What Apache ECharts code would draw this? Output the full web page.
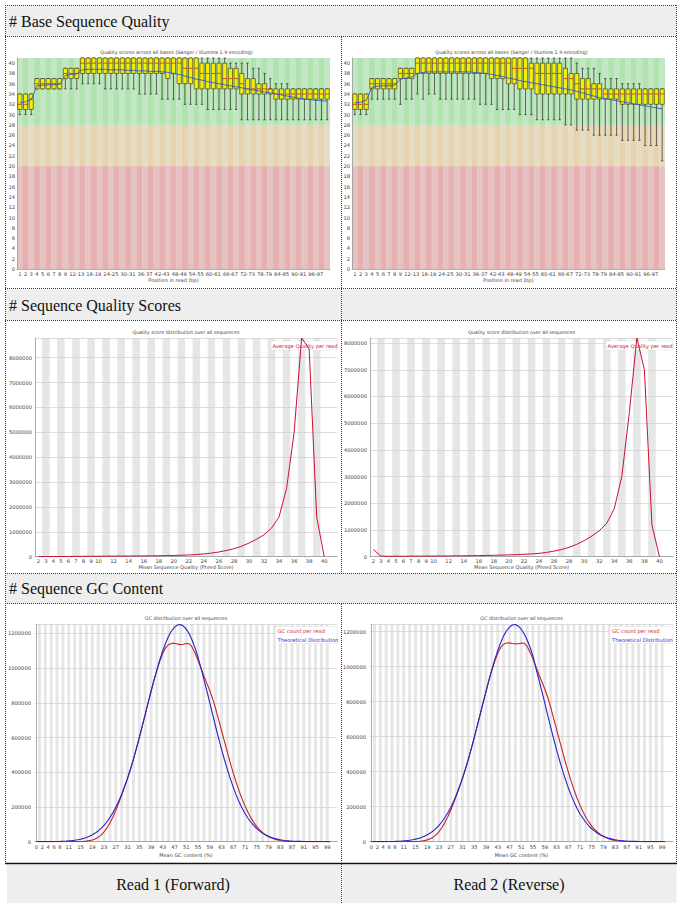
<!DOCTYPE html>
<html><head><meta charset="utf-8">
<script src="https://cdn.jsdelivr.net/npm/echarts@6/dist/echarts.min.js"></script>
<style>html,body{margin:0;padding:0;background:#fff}#c{width:681px;height:910px}</style>
</head><body><div id="c"></div>
<script>
// ---------- Base Sequence Quality ----------
const bsqCategories = ['1','2','3','4','5','6','7','8','9','10-11','12-13','14-15','16-17','18-19','20-21','22-23','24-25','26-27','28-29','30-31','32-33','34-35','36-37','38-39','40-41','42-43','44-45','46-47','48-49','50-51','52-53','54-55','56-57','58-59','60-61','62-63','64-65','66-67','68-69','70-71','72-73','74-75','76-77','78-79','80-81','82-83','84-85','86-87','88-89','90-91','92-93','94-95','96-97','98-99','100-101'];
const bsqTickLabels = ['1','2','3','4','5','6','7','8','9','12-13','18-19','24-25','30-31','36-37','42-43','48-49','54-55','60-61','66-67','72-73','78-79','84-85','90-91','96-97'];
const bsqZoneBounds = [0, 20, 28, 41];
// [10th pct, Q1, median, Q3, 90th pct]
const bsqBoxRead1 = [
[30,31,32,34,34],[30,31,32,34,34],[30,31,33,34,34],[35,35,36,37,37],[35,35,36,37,37],[35,35,36,37,37],[35,35,36,37,37],[35,35,36,37,37],
[35,37,38,39,39],[35,37,38,39,39],[35,37,38,39,39],[36,38,40,41,41],[36,38,40,41,41],[36,38,40,41,41],[36,38,40,41,41],[35,38,40,41,41],
[35,38,40,41,41],[35,38,40,41,41],[35,38,40,41,41],[35,38,40,41,41],[35,38,40,41,41],[34,38,40,41,41],[34,38,40,41,41],[34,38,40,41,41],
[34,38,40,41,41],[33,38,40,41,41],[33,37,40,41,41],[33,38,40,41,41],[33,36,40,41,41],[32,36,39,41,41],[32,36,39,41,41],[32,35,39,41,41],
[32,35,38,40,41],[31,35,38,40,41],[31,35,38,40,41],[31,35,38,40,41],[31,35,37,40,41],[31,35,37,39,40],[31,35,37,39,40],[29,34,36,38,40],
[29,34,35,37,40],[29,34,35,37,39],[29,34,35,36,39],[29,34,35,36,38],[29,34,35,35,37],[29,33,34,35,36],[29,33,34,35,36],[29,33,34,35,36],
[29,33,34,35,35],[29,33,34,35,35],[29,33,34,35,35],[29,33,34,35,35],[29,33,34,35,35],[29,33,34,35,35],[29,33,34,35,35]];
const bsqMeanRead1 = [32.3,32.5,32.9,35.6,35.7,35.8,35.8,35.9,37.6,37.8,37.9,38.7,38.8,38.8,38.8,38.8,38.7,38.7,38.7,38.6,38.6,38.5,38.5,38.4,38.4,38.3,38.2,38.0,37.8,37.5,37.2,36.9,36.7,36.4,36.2,36.0,35.8,35.6,35.4,35.2,35.0,34.8,34.6,34.4,34.2,34.0,33.8,33.6,33.4,33.2,33.0,32.9,32.8,32.7,32.6];
const bsqBoxRead2 = [
[30,31,32,34,34],[30,31,32,34,34],[30,31,32,34,34],[33,35,36,37,37],[33,35,36,37,37],[33,35,36,37,37],[33,35,36,37,37],[33,35,36,37,37],
[32,37,38,39,39],[33,37,38,39,39],[33,37,38,39,39],[34,38,40,41,41],[33,38,40,41,41],[34,38,40,41,41],[34,38,40,41,41],[33,38,40,41,41],
[33,38,40,41,41],[33,38,40,41,41],[33,38,40,41,41],[33,38,40,41,41],[33,38,40,41,41],[33,38,40,41,41],[32,38,40,41,41],[32,38,40,41,41],
[32,37,40,41,41],[31,37,40,41,41],[31,37,40,41,41],[31,36,40,41,41],[31,36,39,41,41],[30,35,39,41,41],[30,35,39,41,41],[30,35,39,40,41],
[29,34,38,40,41],[29,34,38,40,41],[29,34,38,40,41],[29,34,38,40,41],[29,34,38,40,41],[28,34,37,39,41],[28,34,37,38,41],[27,33,36,38,40],
[27,33,35,37,39],[27,33,35,37,39],[26,33,35,36,39],[26,33,35,36,38],[26,33,34,35,37],[26,33,34,35,37],[26,33,34,35,37],[25,32,34,35,36],
[25,32,34,35,36],[25,32,34,35,36],[25,32,34,35,36],[24,32,34,35,35],[24,32,34,35,35],[24,32,34,35,35],[21,32,34,35,35]];
const bsqMeanRead2 = [32.3,32.4,32.8,35.3,35.5,35.6,35.6,35.7,36.9,37.1,37.3,38.0,38.2,38.3,38.3,38.3,38.3,38.3,38.3,38.3,38.3,38.2,38.1,38.0,37.8,37.6,37.4,37.1,36.9,36.6,36.4,36.2,36.0,35.8,35.6,35.4,35.2,35.0,34.8,34.5,34.2,33.9,33.6,33.3,33.1,32.9,32.7,32.5,32.3,32.1,31.9,31.7,31.5,31.3,31.1];

// ---------- Per sequence quality scores ----------
const sqsQuality = [2,3,4,5,6,7,8,9,10,11,12,13,14,15,16,17,18,19,20,21,22,23,24,25,26,27,28,29,30,31,32,33,34,35,36,37,38,39,40];
const sqsTickLabels = [2,3,4,5,6,7,8,9,10,12,14,16,18,20,22,24,26,28,30,32,34,36,38,40];
const sqsCountRead1 = [3000,5000,7000,9000,11000,13000,15000,17000,19000,21000,23000,25000,27000,29000,32000,35000,39000,44000,50000,58000,70000,88000,110000,145000,190000,250000,320000,420000,550000,700000,880000,1150000,1600000,2750000,5000000,8790000,8350000,1600000,0];
const sqsCountRead2 = [270000,20000,18000,18000,19000,20000,21000,22000,24000,26000,28000,31000,34000,38000,42000,47000,53000,60000,68000,78000,90000,105000,125000,160000,210000,270000,350000,460000,600000,770000,970000,1250000,1800000,3000000,5400000,8190000,7000000,1190000,0];
const sqsYMax = [8790000, 8190000];

// ---------- GC content ----------
const gcPercent = [0,1,2,3,4,5,6,7,8,9,10,11,12,13,14,15,16,17,18,19,20,21,22,23,24,25,26,27,28,29,30,31,32,33,34,35,36,37,38,39,40,41,42,43,44,45,46,47,48,49,50,51,52,53,54,55,56,57,58,59,60,61,62,63,64,65,66,67,68,69,70,71,72,73,74,75,76,77,78,79,80,81,82,83,84,85,86,87,88,89,90,91,92,93,94,95,96,97,98,99,100];
const gcTickLabels = [0,2,4,6,8,11,15,19,23,27,31,35,39,43,47,51,55,59,63,67,71,75,79,83,87,91,95,99];
const gcCountRead1 = [0,0,0,0,0,0,0,0,0,0,0,100,200,400,700,1200,2000,3500,6000,10000,16000,25000,38000,56000,80000,108000,141000,180000,222000,268000,316000,364000,416000,474000,536000,600000,666000,733000,800000,866000,930000,988000,1040000,1085000,1118000,1135000,1142000,1143000,1138000,1135000,1137000,1141000,1140000,1120000,1085000,1045000,1000000,955000,912000,870000,822000,765000,703000,640000,577000,514000,453000,395000,341000,291000,246000,205000,169000,137000,110000,87000,68000,52000,39000,29000,21000,15000,10000,7000,4800,3200,2100,1400,900,600,400,250,150,100,60,40,20,10,0,0,0];
const gcTheoryRead1 = [115,170,245,350,500,707,990,1400,1900,2600,3600,4800,6400,8500,11200,14600,19000,24400,31000,39500,49600,62000,76500,94000,115000,139000,166000,198000,233000,273000,318000,366000,419000,476000,536000,599000,665000,731000,799000,865000,930000,991000,1048000,1100000,1146000,1185000,1215000,1236000,1248000,1251000,1242000,1224000,1198000,1160000,1115000,1062000,1000000,935000,868000,800000,730000,662000,596000,532000,472000,415000,362000,313000,268000,228000,193000,162000,135000,112000,92000,75000,61000,49000,39000,31000,24500,19000,14800,11400,8700,6600,5000,3700,2700,2000,1600,1100,800,570,400,280,190,130,90,60,40];
const gcCountRead2 = [0,0,0,0,0,0,0,0,0,0,0,100,200,400,700,1200,2100,3600,6200,10500,16500,26000,39000,57000,81000,109000,142000,180000,222000,267000,314000,362000,414000,471000,532000,595000,660000,727000,793000,858000,921000,979000,1031000,1076000,1110000,1128000,1135000,1136000,1132000,1130000,1131000,1135000,1134000,1116000,1083000,1044000,1000000,957000,915000,874000,827000,770000,708000,645000,582000,519000,458000,400000,346000,296000,250000,209000,172000,140000,113000,89000,70000,54000,40000,30000,22000,15500,10500,7300,5000,3300,2200,1400,900,600,400,250,150,100,60,40,20,10,0,0,0];
const gcTheoryRead2 = [110,165,240,345,495,700,980,1390,1880,2580,3570,4760,6350,8430,11100,14500,18850,24200,30750,39200,49200,61500,75900,93200,114000,138000,165000,196000,231000,271000,315000,363000,416000,472000,532000,594000,660000,725000,793000,858000,923000,983000,1040000,1091000,1137000,1176000,1205000,1226000,1238000,1241000,1232000,1214000,1188000,1154000,1111000,1061000,992000,928000,861000,794000,724000,657000,591000,528000,468000,412000,359000,310000,266000,226000,191000,160000,134000,111000,91000,74000,60500,48600,38700,30700,24300,18800,14700,11300,8600,6500,4900,3700,2700,2000,1600,1100,800,570,400,280,190,130,90,60,40];
const gcYMax = [1252000, 1242000];

// ---------- styling helpers ----------
const SANS = 'DejaVu Sans';
const SERIF = 'Liberation Serif';
const LBL = {fontSize: 5.2, color: '#444', fontFamily: SANS};
const AXL = {show: true, lineStyle: {color: '#999', width: 0.8}};
const zoneLight = ['#e6c3c3', '#e6dcc3', '#c3e6c3'];
const zoneDark  = ['#e6b0b0', '#e6d4b0', '#b0e3b0'];

function bsqBg(params, api) {
  const i = api.value(0);
  const w = api.size([1, 0])[0];
  const cx = api.coord([i, 0])[0];
  const kids = [];
  for (let z = 0; z < 3; z++) {
    const yb = api.coord([i, bsqZoneBounds[z]])[1];
    const yt = api.coord([i, bsqZoneBounds[z + 1]])[1];
    kids.push({type: 'rect', shape: {x: cx - w / 2, y: yt, width: w + 0.3, height: yb - yt},
      style: {fill: (i % 2 === 0 ? zoneLight : zoneDark)[z]}});
  }
  return {type: 'group', children: kids};
}
function bsqBox(params, api) {
  const i = api.value(0);
  const w = api.size([1, 0])[0];
  const bw = w * 0.74, cw = w * 0.42;
  const lo = api.coord([i, api.value(1)]), q1 = api.coord([i, api.value(2)]);
  const md = api.coord([i, api.value(3)]), q3 = api.coord([i, api.value(4)]);
  const hi = api.coord([i, api.value(5)]);
  const cx = lo[0];
  const ls = {stroke: '#2a2a2a', lineWidth: 0.7};
  return {type: 'group', children: [
    {type: 'line', shape: {x1: cx, y1: lo[1], x2: cx, y2: hi[1]}, style: ls},
    {type: 'line', shape: {x1: cx - cw / 2, y1: lo[1], x2: cx + cw / 2, y2: lo[1]}, style: ls},
    {type: 'line', shape: {x1: cx - cw / 2, y1: hi[1], x2: cx + cw / 2, y2: hi[1]}, style: ls},
    {type: 'rect', shape: {x: cx - bw / 2, y: q3[1], width: bw, height: Math.max(q1[1] - q3[1], 0.5)},
      style: {fill: '#f2f000', stroke: '#2a2a2a', lineWidth: 0.6}},
    {type: 'line', shape: {x1: cx - bw / 2, y1: md[1], x2: cx + bw / 2, y2: md[1]}, style: {stroke: '#d01010', lineWidth: 0.7}}
  ]};
}
function stripe(params, api) {
  const v = api.value(0);
  const w = api.size([1, 0])[0];
  const cx = api.coord([v, 0])[0];
  const cs = params.coordSys;
  return {type: 'rect', shape: {x: cx - w / 2, y: cs.y, width: w, height: cs.height}, style: {fill: '#e6e6e6'}};
}

// ---------- grids ----------
const grids = [
  {left: 17, top: 58, width: 313, height: 211},
  {left: 352, top: 58, width: 313, height: 211},
  {left: 35, top: 338, width: 302, height: 218.7},
  {left: 370, top: 338, width: 303, height: 218.7},
  {left: 35, top: 624.3, width: 302, height: 217.4},
  {left: 370, top: 624.3, width: 303, height: 217.4}
].map(g => Object.assign(g, {containLabel: false, outerBoundsMode: 'none'}));

function bsqX(gi) {
  return {type: 'category', gridIndex: gi, data: bsqCategories, boundaryGap: true,
    axisLine: AXL, axisTick: {show: false},
    axisLabel: Object.assign({}, LBL, {margin: 2, interval: (idx, val) => bsqTickLabels.includes(val)}),
    name: 'Position in read (bp)', nameLocation: 'middle', nameGap: 8.5,
    nameTextStyle: {fontSize: 5, color: '#444', fontFamily: SANS}};
}
function valX(gi, min, max, ticks, name, margin, gap) {
  return {type: 'value', gridIndex: gi, min: min, max: max, splitLine: {show: false},
    axisLine: AXL, axisTick: {show: false},
    axisLabel: Object.assign({}, LBL, {margin: margin, customValues: ticks, showMinLabel: true, showMaxLabel: true}),
    name: name, nameLocation: 'middle', nameGap: gap,
    nameTextStyle: {fontSize: 5, color: '#444', fontFamily: SANS}};
}
function valY(gi, max, interval, margin, grid) {
  return {type: 'value', gridIndex: gi, min: 0, max: max, interval: interval,
    axisLine: AXL, axisTick: {show: false},
    splitLine: {show: grid, lineStyle: {color: '#cfcfcf', width: 0.7}},
    axisLabel: Object.assign({}, LBL, {margin: margin, showMaxLabel: false, formatter: v => String(v)})};
}

const xAxis = [
  bsqX(0), bsqX(1),
  valX(2, 1.55, 41.7, sqsTickLabels, 'Mean Sequence Quality (Phred Score)', 1.8, 8),
  valX(3, 1.55, 41.8, sqsTickLabels, 'Mean Sequence Quality (Phred Score)', 1.8, 8),
  valX(4, -0.5, 102.3, gcTickLabels, 'Mean GC content (%)', 2.5, 10.5),
  valX(5, -0.5, 102.7, gcTickLabels, 'Mean GC content (%)', 2.5, 10.5)
];
const yAxis = [
  valY(0, 41, 2, 2, false), valY(1, 41, 2, 2, false),
  valY(2, sqsYMax[0], 1000000, 3, true), valY(3, sqsYMax[1], 1000000, 3, true),
  valY(4, gcYMax[0], 200000, 4, true), valY(5, gcYMax[1], 200000, 4, true)
];

const series = [];
[[bsqBoxRead1, bsqMeanRead1], [bsqBoxRead2, bsqMeanRead2]].forEach((pair, k) => {
  series.push({type: 'custom', xAxisIndex: k, yAxisIndex: k, z: -1, silent: true, clip: true,
    renderItem: bsqBg, encode: {x: 0}, data: bsqCategories.map((c, i) => [i])});
  series.push({type: 'custom', xAxisIndex: k, yAxisIndex: k, z: 2, silent: true,
    renderItem: bsqBox, encode: {x: 0, y: [1, 2, 3, 4, 5]}, data: pair[0].map((b, i) => [i].concat(b))});
  series.push({type: 'line', name: 'Mean', xAxisIndex: k, yAxisIndex: k, z: 3, symbol: 'none', silent: true,
    data: pair[1], lineStyle: {color: '#3552dc', width: 0.9}});
});
[sqsCountRead1, sqsCountRead2].forEach((counts, k) => {
  const ax = 2 + k;
  series.push({type: 'custom', xAxisIndex: ax, yAxisIndex: ax, z: -1, silent: true,
    renderItem: stripe, encode: {x: 0}, data: sqsQuality.filter(q => q % 2 === 1).map(q => [q])});
  series.push({type: 'line', name: 'Average Quality per read', xAxisIndex: ax, yAxisIndex: ax, z: 3,
    symbol: 'none', silent: true, data: sqsQuality.map((q, i) => [q, counts[i]]),
    lineStyle: {color: '#cc1030', width: 1}});
});
[[gcCountRead1, gcTheoryRead1], [gcCountRead2, gcTheoryRead2]].forEach((pair, k) => {
  const ax = 4 + k;
  series.push({type: 'custom', xAxisIndex: ax, yAxisIndex: ax, z: -1, silent: true,
    renderItem: stripe, encode: {x: 0}, data: gcPercent.filter(g => g % 2 === 1).map(g => [g])});
  series.push({type: 'line', name: 'GC count per read', xAxisIndex: ax, yAxisIndex: ax, z: 3,
    symbol: 'none', silent: true, data: gcPercent.map((g, i) => [g, pair[0][i]]),
    lineStyle: {color: '#cc2222', width: 1.1}});
  series.push({type: 'line', name: 'Theoretical Distribution', xAxisIndex: ax, yAxisIndex: ax, z: 4,
    symbol: 'none', silent: true, data: gcPercent.map((g, i) => [g, pair[1][i]]),
    lineStyle: {color: '#2424c8', width: 1.1}});
});

// ---------- table graphics ----------
const G = [];
const dot = {stroke: '#333', lineWidth: 1, lineDash: [1, 1]};
function hline(y, x1, x2) { G.push({type: 'line', shape: {x1: x1, y1: y, x2: x2, y2: y}, style: dot, silent: true}); }
function vline(x, y1, y2) { G.push({type: 'line', shape: {x1: x, y1: y1, x2: x, y2: y2}, style: dot, silent: true}); }
function rect(x, y, w, h, fill) { G.push({type: 'rect', shape: {x: x, y: y, width: w, height: h}, style: {fill: fill}, silent: true}); }
function text(t, x, y, size, opts) {
  G.push(Object.assign({type: 'text', x: x, y: y, silent: true,
    style: Object.assign({text: t, fontSize: size, fontFamily: SANS, fill: '#444', textAlign: 'left', textVerticalAlign: 'middle'}, opts || {})}));
}
rect(6, 6.5, 670, 29.5, '#eeeeee');
rect(6, 289.5, 335, 30.5, '#eeeeee');
rect(342, 289.5, 334, 30.5, '#eeeeee');
rect(6, 574, 670, 29, '#eeeeee');
rect(7, 865, 333.5, 38, '#eeeeee');
rect(343, 865, 333.5, 38, '#eeeeee');
hline(5.5, 5, 677); hline(36.5, 5, 677); hline(288.5, 5, 677); hline(320.5, 5, 677);
hline(573.5, 5, 677); hline(603.5, 5, 677);
vline(341.5, 37, 573); vline(341.5, 604, 862); vline(341.5, 864, 904);
vline(5.5, 5, 862); vline(676.5, 5, 862);
G.push({type: 'line', shape: {x1: 5, y1: 863.5, x2: 677, y2: 863.5}, style: {stroke: '#111', lineWidth: 1.5}, silent: true});

const hdr = {fontFamily: SERIF, fill: '#111'};
text('# Base Sequence Quality', 9, 21, 16, hdr);
text('# Sequence Quality Scores', 9, 305, 16, hdr);
text('# Sequence GC Content', 9, 588.5, 16, hdr);
text('Read 1 (Forward)', 173, 884, 16, Object.assign({textAlign: 'center'}, hdr));
text('Read 2 (Reverse)', 509, 884, 16, Object.assign({textAlign: 'center'}, hdr));

const ctitle = {textAlign: 'center', fill: '#444'};
text('Quality scores across all bases (Sanger / Illumina 1.9 encoding)', 176.5, 52.5, 4.8, ctitle);
text('Quality scores across all bases (Sanger / Illumina 1.9 encoding)', 511.5, 52.5, 4.8, ctitle);
text('Quality score distribution over all sequences', 186, 332.5, 4.8, ctitle);
text('Quality score distribution over all sequences', 521.5, 332.5, 4.8, ctitle);
text('GC distribution over all sequences', 186, 618.5, 4.8, ctitle);
text('GC distribution over all sequences', 521.5, 618.5, 4.8, ctitle);

// legends (white boxes under the curves, above the stripes)
function legendBox(x, y, w, h) { G.push({type: 'rect', z: 1, shape: {x: x, y: y, width: w, height: h}, style: {fill: '#fff', stroke: '#e4e4e4', lineWidth: 0.6}, silent: true}); }
function legendText(t, x, y, color) { G.push({type: 'text', z: 1, x: x, y: y, silent: true, style: {text: t, fontSize: 5.2, fontFamily: SANS, fill: color, textVerticalAlign: 'middle'}}); }
legendBox(271, 341, 66, 9); legendText('Average Quality per read', 272.5, 345.5, '#d0203a');
legendBox(606, 341, 67, 9); legendText('Average Quality per read', 607.5, 345.5, '#d0203a');
legendBox(275.5, 626.5, 62, 17); legendText('GC count per read', 277.5, 631, '#d03030'); legendText('Theoretical Distribution', 277.5, 639.5, '#3030d0');
legendBox(610, 626.5, 63, 17); legendText('GC count per read', 612, 631, '#d03030'); legendText('Theoretical Distribution', 612, 639.5, '#3030d0');

const chart = echarts.init(document.getElementById('c'), null, {renderer: 'svg', width: 681, height: 910});
chart.setOption({
  animation: false,
  backgroundColor: '#fff',
  textStyle: {fontFamily: SANS},
  grid: grids, xAxis: xAxis, yAxis: yAxis, series: series,
  graphic: {z: 1, elements: G}
});
</script></body></html>
